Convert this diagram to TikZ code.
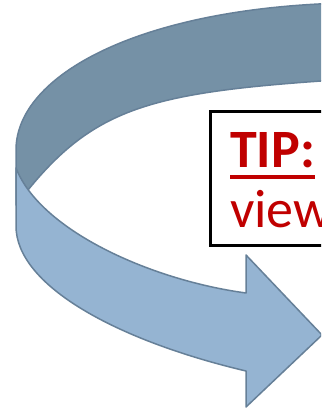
\documentclass[tikz,border=0pt]{standalone}
\usepackage{fontspec}
\setmainfont{Carlito}
\definecolor{bandback}{RGB}{117,145,166}
\definecolor{bandfront}{RGB}{149,180,210}
\definecolor{bandline}{RGB}{102,128,152}
\definecolor{tipred}{RGB}{192,0,0}
\begin{document}
\begin{tikzpicture}[x=1pt,y=-1pt,
  band/.style={draw=bandline, line width=1.5pt, line join=round},
  tipbox/.style={draw=black, fill=white, line width=3pt, outer sep=0pt, inner sep=0pt, anchor=north west},
  tiptext/.style={anchor=base west, inner sep=0pt, text=tipred, font=\fontsize{54}{60}\selectfont}]
\useasboundingbox (0,0) rectangle (321,411);
\clip (0,0) rectangle (321,411);
\fill[white] (0,0) rectangle (321,411);
% back of the ribbon
\draw[band, fill=bandback] (16,205) -- (16,150) .. controls (16,75) and (140,8) .. (345,3)
  -- (345,79.5) -- (321,81) .. controls (151,93) and (94,109) .. (28,190) -- (20,200) -- cycle;
% front of the ribbon with arrow head
\draw[band, fill=bandfront] (16,168) -- (16,226) .. controls (16,285) and (115,340) .. (246,371)
  -- (246,407) -- (322,335) -- (246,255) -- (246,293)
  .. controls (150,280) and (40,230) .. (16,168) -- cycle;
% text box
\node[tipbox, minimum width=150pt, minimum height=133pt] (box) at (210,112) {};
\node[tiptext, font=\fontsize{54}{60}\selectfont\bfseries] (tip) at (230,168) {TIP:};
\node[tiptext] (view) at (230,227) {view};
\draw[tipred, line width=4pt] ([yshift=-9pt]tip.base west) -- ([yshift=-9pt]tip.base east);
\end{tikzpicture}
\end{document}
